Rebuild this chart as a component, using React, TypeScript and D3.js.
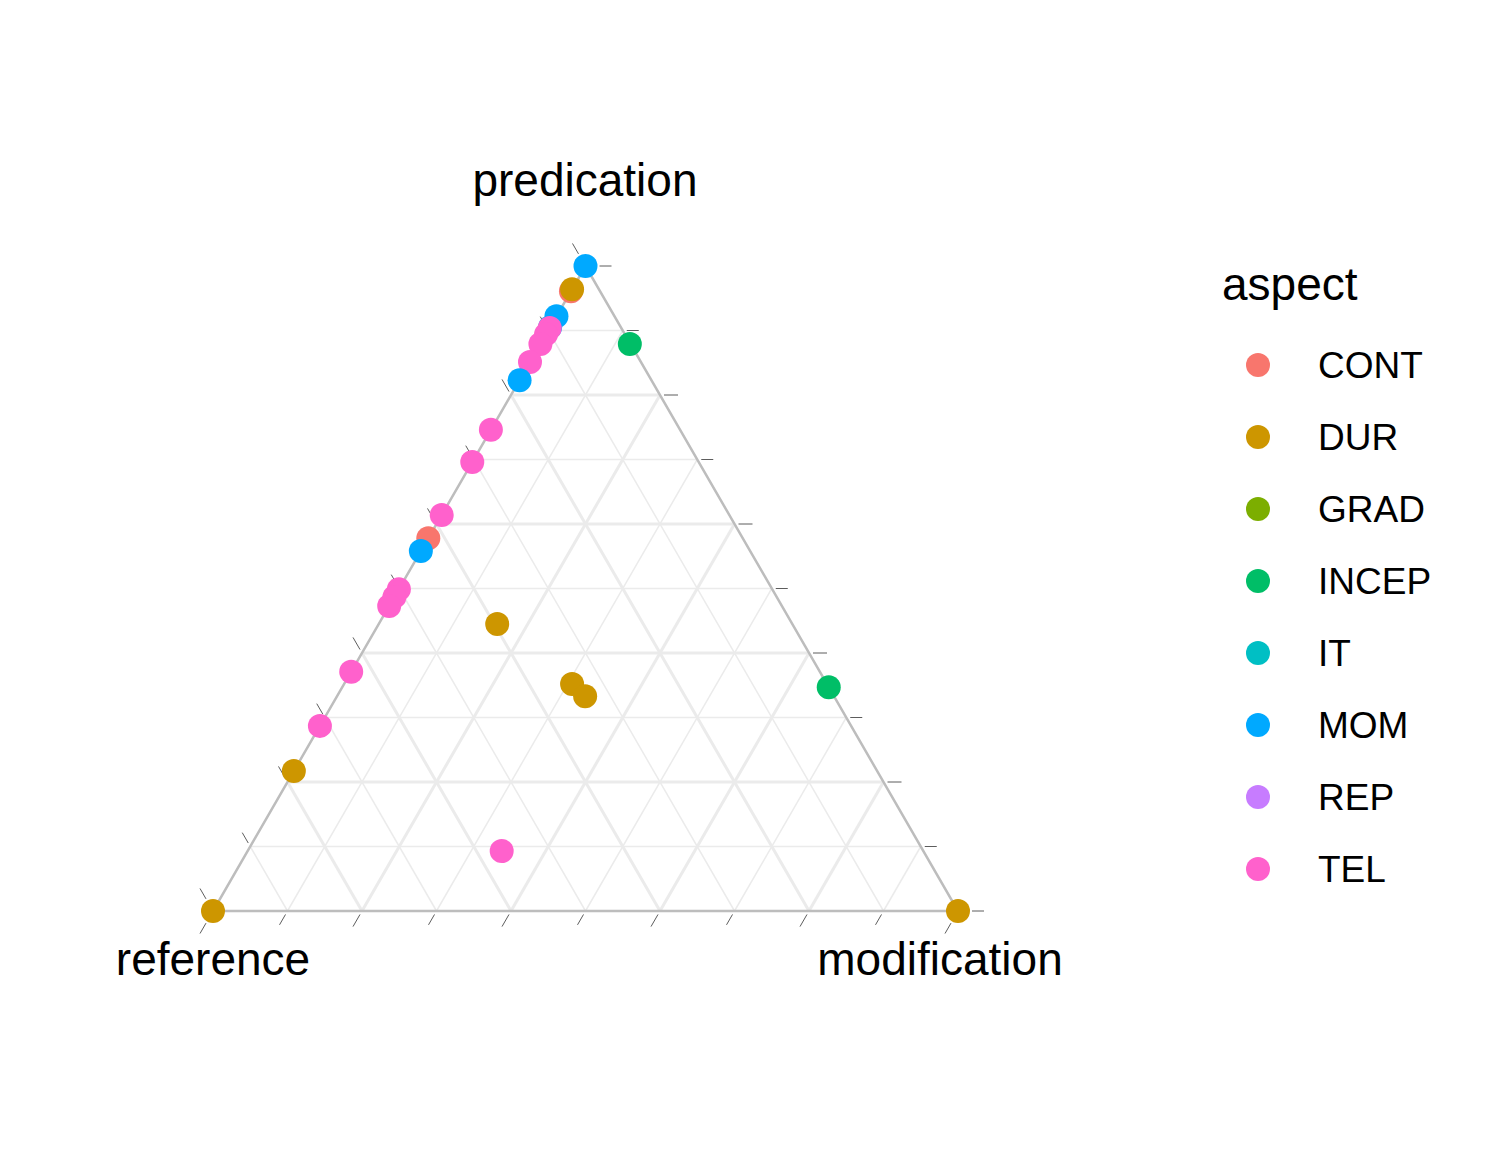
import React from "react";
import * as d3 from "d3";

const aspects = ["CONT", "DUR", "GRAD", "INCEP", "IT", "MOM", "REP", "TEL"];
const colors = ["#F8766D", "#CD9600", "#7CAE00", "#00BE67", "#00BFC4", "#00A9FF", "#C77CFF", "#FF61CC"];
// [aspect, predication, modification]
const pointAspect = ["MOM","CONT","DUR","MOM","MOM","TEL","TEL","INCEP","TEL","TEL","MOM","TEL","TEL","TEL","CONT","MOM","TEL","TEL","TEL","DUR","TEL","DUR","DUR","INCEP","TEL","DUR","TEL","DUR","DUR"];
const pointPred =   [1.0, 0.961,0.964,0.922,0.905,0.904,0.894,0.879,0.879,0.851,0.823,0.746,0.696,0.614,0.578,0.558,0.499,0.487,0.473,0.445,0.371,0.352,0.333,0.347,0.287,0.217,0.093,0.0,0.0];
const pointMod =    [0.0, 0.0,  0.0,  0.0,  0.0,  0.0,  0.0,  0.12, 0.0,  0.0,  0.0,  0.0,  0.0,  0.0,  0.0,  0.0,  0.0,  0.0,  0.0,  0.159,0.0,  0.306,0.333,0.653,0.0,  0.0,  0.341,0.0,1.0];
const levels = [0.1,0.2,0.3,0.4,0.5,0.6,0.7,0.8,0.9];

const X0 = 213, X1 = 958, YB = 911, YT = 266;
const sx = d3.scaleLinear().domain([0, 1]).range([X0, X1]);
const sy = d3.scaleLinear().domain([0, 1]).range([YB, YT]);
const P = (p: number, m: number): [number, number] => [sx(m + p / 2), sy(p)];

export default function App() {
  const grid: JSX.Element[] = [];
  const ticks: JSX.Element[] = [];
  levels.forEach((t, i) => {
    const major = Math.round(t * 10) % 2 === 0;
    const st = { stroke: "#ebebeb", strokeWidth: major ? 3 : 1.5 };
    const segs: [[number, number], [number, number], [number, number]][] = [];
    // predication: left edge -> right edge, tick beyond right
    segs.push([P(t, 0), P(t, 1 - t), [1, 0]]);
    // reference: bottom -> left edge, tick beyond left edge (up-left)
    segs.push([P(0, 1 - t), P(1 - t, 0), [-0.5, -0.866]]);
    // modification: right edge -> bottom, tick beyond bottom (down-left)
    segs.push([P(1 - t, t), P(0, t), [-0.5, 0.866]]);
    segs.forEach(([a, b, d], j) => {
      grid.push(<line key={`g${i}-${j}`} x1={a[0]} y1={a[1]} x2={b[0]} y2={b[1]} {...st} />);
      const L = major ? 14 : 12;
      ticks.push(<line key={`t${i}-${j}`} x1={b[0] + d[0] * 4} y1={b[1] + d[1] * 4} x2={b[0] + d[0] * (4 + L)} y2={b[1] + d[1] * (4 + L)} stroke="#333" strokeWidth={0.8} />);
    });
  });
  // ticks at 0 and 1
  [[P(1, 0), [1, 0]], [P(0, 1), [1, 0]], [P(1, 0), [-0.5, -0.866]], [P(0, 0), [-0.5, -0.866]], [P(0, 1), [-0.5, 0.866]], [P(0, 0), [-0.5, 0.866]]].forEach(([b, d]: any, k) => {
    ticks.push(<line key={`e${k}`} x1={b[0] + d[0] * 14} y1={b[1] + d[1] * 14} x2={b[0] + d[0] * 26} y2={b[1] + d[1] * 26} stroke="#333" strokeWidth={0.8} />);
  });
  const tri = [P(0, 0), P(0, 1), P(1, 0)].map(p => p.join(",")).join(" ");
  const font = "Arial, 'Liberation Sans', sans-serif";
  return (
    <svg width={1490} height={1162} style={{ display: "block", position: "absolute", left: 0, top: 0 }} fontFamily={font}>
      <rect width={1490} height={1162} fill="#fff" />
      {grid}
      <polygon points={tri} fill="none" stroke="#bdbdbd" strokeWidth={2.5} />
      {ticks}
      {pointPred.map((p, i) => {
        const [x, y] = P(p, pointMod[i]);
        return <circle key={i} cx={x} cy={y} r={12} fill={colors[aspects.indexOf(pointAspect[i])]} />;
      })}
      <text x={585} y={196} fontSize={46} textAnchor="middle">predication</text>
      <text x={213} y={975} fontSize={46} textAnchor="middle">reference</text>
      <text x={940} y={975} fontSize={46} textAnchor="middle">modification</text>
      <text x={1222} y={300} fontSize={46}>aspect</text>
      {aspects.map((a, i) => (
        <g key={a}>
          <circle cx={1258} cy={365 + i * 72} r={12} fill={colors[i]} />
          <text x={1318} y={365 + i * 72 + 13} fontSize={37}>{a}</text>
        </g>
      ))}
    </svg>
  );
}
